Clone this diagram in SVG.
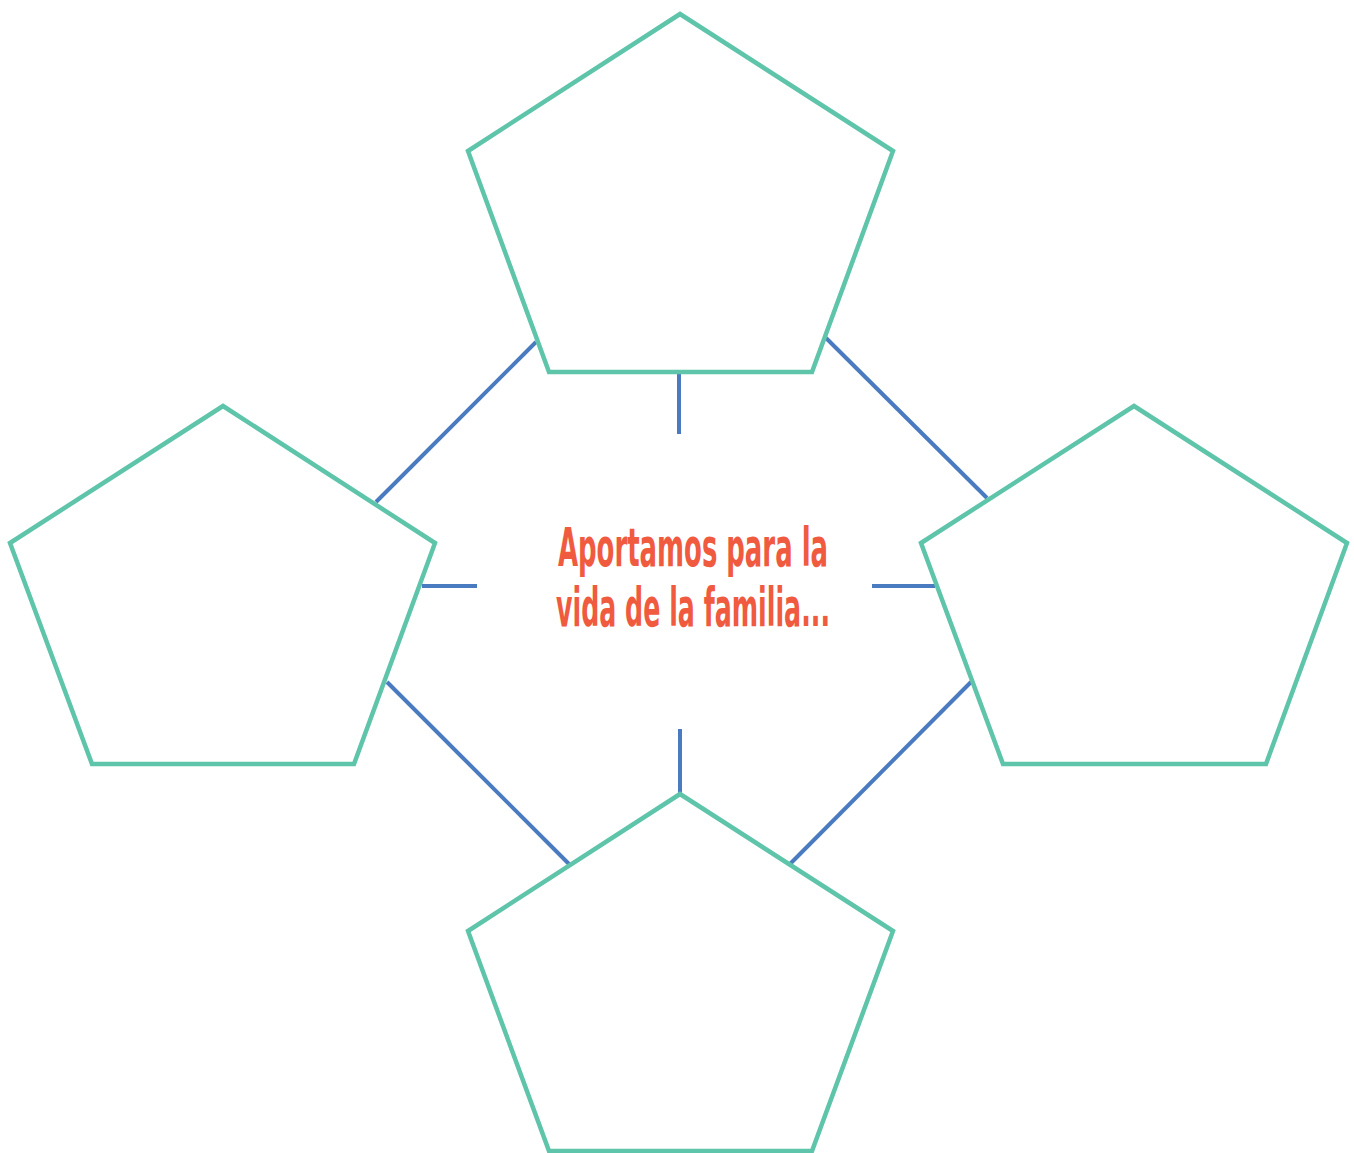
<svg xmlns="http://www.w3.org/2000/svg" width="1354" height="1153" viewBox="0 0 1354 1153">
<style>
.pent{fill:none;stroke:#5ec4aa;stroke-width:4.5;stroke-linejoin:miter}
.conn{stroke:#4a7bc0;stroke-width:4;fill:none}
.title{font-family:"Liberation Sans Narrow","DejaVu Sans Condensed","Liberation Sans",sans-serif;font-weight:bold;font-size:53px;fill:#f05a3f}
</style>
<rect width="1354" height="1153" fill="#ffffff"/>
<g id="connectors">
<line class="conn" x1="679" y1="374" x2="679" y2="434"/>
<line class="conn" x1="422" y1="586" x2="477" y2="586"/>
<line class="conn" x1="872" y1="586" x2="935" y2="586"/>
<line class="conn" x1="680" y1="729" x2="680" y2="793"/>
<line class="conn" x1="536" y1="342" x2="376" y2="502"/>
<line class="conn" x1="826" y1="338" x2="987" y2="498"/>
<line class="conn" x1="387" y1="682" x2="569" y2="864"/>
<line class="conn" x1="971" y1="682" x2="790" y2="864"/>
</g>
<g id="node-top"><polygon class="pent" points="680,14 893,151 812,372 549,372 468,151"/></g>
<g id="node-left"><polygon class="pent" points="223,406 435,543 354,764 92,764 10,543"/></g>
<g id="node-right"><polygon class="pent" points="1134,406 1347,543 1266,764 1003,764 921,543"/></g>
<g id="node-bottom"><polygon class="pent" points="680,794 893,931 812,1151 549,1151 468,931"/></g>
<g id="node-center">
<text class="title" x="558" y="566" textLength="270" lengthAdjust="spacingAndGlyphs">Aportamos para la</text>
<text class="title" x="556" y="626" textLength="274" lengthAdjust="spacingAndGlyphs">vida de la familia...</text>
</g>
</svg>
